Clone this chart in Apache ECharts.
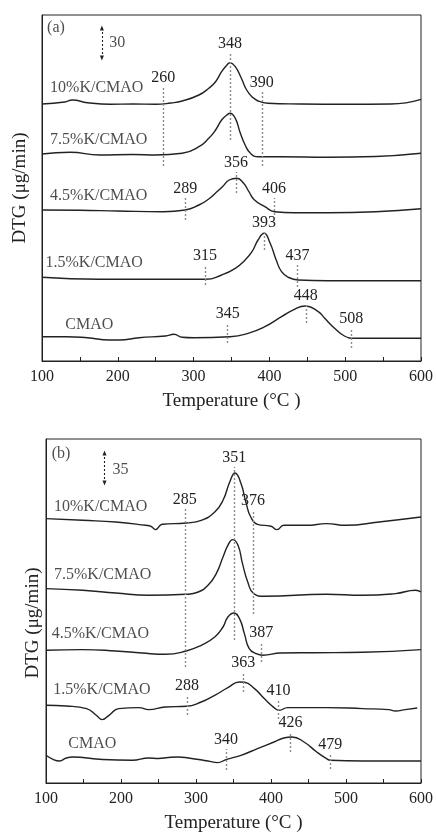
<!DOCTYPE html>
<html>
<head>
<meta charset="utf-8">
<title>DTG profiles</title>
<script src="https://cdn.jsdelivr.net/npm/echarts@6/dist/echarts.min.js"></script>
<style>
html, body { margin: 0; padding: 0; background: #fff; }
#chart { width: 436px; height: 834px; }
</style>
</head>
<body>
<div id="chart"></div>
<script>
var samples = ['10%K/CMAO', '7.5%K/CMAO', '4.5%K/CMAO', '1.5%K/CMAO', 'CMAO'];

// panel (a): [temperature, DTG above own baseline]
var dtgA10 = [[100,-1],[130,1],[140,3],[160,0.3],[190,-1.3],[220,-1],[250,-1.3],[270,0],[285,2],[307,8],[320,14.7],[329,21.3],[337,31.3],[344,38],[348,40.3],[355,36.3],[363,24.7],[370,13],[377,6.3],[385,2],[398,-0.3],[440,-1],[500,-1.3],[560,-1],[600,3.7]];
var dtgA75 = [[100,1],[137,2.7],[176,0],[220,0.5],[250,0],[285,1.7],[307,8.3],[320,16.7],[329,25],[337,35],[344,40],[348,41.7],[355,36.7],[361,23.3],[368,10],[375,1.7],[385,-1.7],[415,-1.7],[477,-2.3],[540,-1.5],[600,1.7]];
var dtgA45 = [[100,1.7],[150,1.5],[200,0.7],[260,0],[289,1.7],[307,6.7],[320,12.7],[329,18.7],[338,25],[347,31.7],[357,33.4],[366,28.4],[373,20],[380,12],[394,5],[407,0],[433,-1],[477,-1],[540,0],[600,3]];
var dtgA15 = [[100,2.7],[175,0.7],[208,0.7],[260,0.7],[316,0.7],[337,5],[355,11.7],[368,20],[377,28.3],[385,40],[393,46.7],[401,36.7],[409,20],[416,8.3],[425,2.7],[438,0],[477,-0.7],[600,-0.7]];
var dtgACM = [[100,1.6],[132,1.6],[160,0.5],[189,-1.7],[202,-1.7],[228,0.6],[263,2.3],[274,4],[285,1],[300,0.5],[348,1.6],[372,5],[394,11.6],[416,21.6],[433,29],[447,32.3],[464,27],[473,20],[486,10],[499,2.3],[512,0],[600,0]];
var offsetA = [258, 206, 149.3, 81, 22.7];

// panel (b)
var dtgB10 = [[100,6.7],[149,5],[193,3.3],[233,0],[240,-1],[246,-4.3],[255,1],[287,2.3],[307,5],[325,13.3],[336,25],[345,43.3],[352,52.3],[360,41.7],[367,21.7],[373,8.3],[382,1],[400,-1],[408,-4.3],[417,0],[448,0],[474,1.7],[500,0],[544,3.3],[600,8.3]];
var dtgB75 = [[100,6.7],[149,5],[193,2.3],[237,0],[287,1],[303,3.3],[316,10],[327,21.7],[336,38.3],[342.5,50],[349,55.7],[356,50],[362,31.7],[369,13.3],[377,1.7],[391,-1],[474,1],[522,0],[566,1.7],[593,5],[600,3.3]];
var dtgB45 = [[100,2.7],[149,3.4],[193,2],[228,0],[259,-1.3],[287,2],[307,7.7],[325,16],[336,26],[342.5,36],[350.4,40],[358,34.4],[364.5,19.4],[371,4.4],[380,-0.6],[389,-2.3],[413,0],[456,0.3],[522,0.7],[600,3.4]];
var dtgB15 = [[100,2.3],[127,1.6],[154,-1],[167,-7.7],[175,-12],[184,-7.7],[197,-1],[224,0],[237,-2],[259,0.6],[287,1.3],[307,5.6],[325,12.3],[342.5,20],[358,25.6],[364.5,25.3],[378,19],[391,9],[404,0],[411,-2.7],[422,0],[474,0],[522,-1],[557,-2],[566,-3.4],[579,-2],[595,-0.4]];
var dtgBCM = [[100,5.7],[110,1.4],[118,0],[127,3],[136,4],[171,1.7],[215,0.7],[237,3],[250,2.5],[263,3.5],[276,4],[290,3],[316,0],[329,-1.6],[340,1.4],[360,5.7],[382,12.4],[404,19],[417,23],[428,24],[444,19],[461,9],[474,2.4],[479,0.7],[522,0],[600,0]];
var offsetB = [257.7, 187.7, 130, 75.4, 22];

// marked temperatures and the vertical extent of their dotted guides
var peaksA = [348, 260, 390, 356, 289, 406, 393, 315, 437, 448, 345, 508];
var spansA = [[221,308],[195,274],[195,269],[168,189],[141,163],[146,163],[111,129],[76,96],[74,96],[38,56],[18,38],[13,33]];
var peaksB = [351, 285, 376, 387, 363, 288, 410, 426, 340, 479];
var spansB = [[143,316],[116,274],[169,273],[121,141],[91,111],[68,88],[64,83],[31,51],[13,34],[14,29]];

var namePosA = [[110,273],[110,221],[110,165],[104,98],[130,36]];
var namePosB = [[110,276],[110,208],[107,149],[109,93],[129,39]];

var font = 'Liberation Serif';
var ink = '#222';

function xAxis(idx) {
  return {
    type: 'value', gridIndex: idx, min: 100, max: 600, interval: 100,
    name: 'Temperature (°C )', nameLocation: 'middle', nameGap: 31,
    nameTextStyle: { fontFamily: font, fontSize: 19, color: ink },
    axisLine: { lineStyle: { color: ink, width: 1 } },
    axisTick: { inside: true, length: 4, lineStyle: { color: ink } },
    minorTick: { show: true, splitNumber: 2, length: 4, lineStyle: { color: ink } },
    axisLabel: { fontFamily: font, fontSize: 16, color: ink, margin: 8 },
    splitLine: { show: false }
  };
}
function yAxis(idx, max, gap, pad) {
  return {
    type: 'value', gridIndex: idx, min: 0, max: max,
    name: 'DTG (μg/min)', nameLocation: 'middle', nameGap: gap,
    nameTextStyle: { fontFamily: font, fontSize: 19, color: ink, padding: pad },
    axisLine: { show: true, lineStyle: { color: ink, width: 1 } },
    axisTick: { show: false }, axisLabel: { show: false },
    splitLine: { show: false }
  };
}

var series = [];
function addPanel(idx, curves, offsets, peaks, spans, namePos, tag, barT, barSpan, barText, barTextPos) {
  curves.forEach(function (c, i) {
    series.push({
      type: 'line', xAxisIndex: idx, yAxisIndex: idx, name: samples[i],
      data: c.map(function (p) { return [p[0], p[1] + offsets[i]]; }),
      smooth: 0.5, showSymbol: false, silent: true,
      lineStyle: { color: ink, width: 1.4 }
    });
  });
  series.push({
    type: 'line', xAxisIndex: idx, yAxisIndex: idx, data: [], silent: true,
    markLine: {
      silent: true, symbol: ['none', 'none'], animation: false,
      lineStyle: { type: [2, 2], color: '#8c8c8c', width: 1.4 },
      label: { show: true, position: 'end', distance: 1, formatter: '{b}',
               fontFamily: font, fontSize: 16, color: ink },
      data: peaks.map(function (t, i) {
        return [{ coord: [t, spans[i][0]], name: String(t) }, { coord: [t, spans[i][1]] }];
      }).concat([[
        { coord: [barT, barSpan[0]], symbol: 'triangle', symbolSize: [4, 5], symbolRotate: 180,
          label: { show: false }, lineStyle: { type: [2, 2], color: ink, width: 1.1 } },
        { coord: [barT, barSpan[1]], symbol: 'triangle', symbolSize: [4, 5] }
      ]])
    }
  });
  series.push({
    type: 'scatter', xAxisIndex: idx, yAxisIndex: idx, silent: true,
    symbolSize: 1, itemStyle: { color: 'rgba(0,0,0,0)' },
    label: { show: true, position: 'right', distance: 0, formatter: '{b}',
             fontFamily: font, fontSize: 16, color: ink },
    data: samples.map(function (s, i) { return { name: s, value: namePos[i] }; })
      .concat([{ name: tag[0], value: tag[1] },
               { name: barText, value: barTextPos }])
  });
}

addPanel(0, [dtgA10, dtgA75, dtgA45, dtgA15, dtgACM], offsetA, peaksA, spansA, namePosA,
         ['(a)', [106, 333]], 179, [303, 333], '30', [188, 318]);
addPanel(1, [dtgB10, dtgB75, dtgB45, dtgB15, dtgBCM], offsetB, peaksB, spansB, namePosB,
         ['(b)', [107, 329]], 178, [300, 330], '35', [188, 313]);

var chart = echarts.init(document.getElementById('chart'));
chart.setOption({
  backgroundColor: '#fff',
  animation: false,
  grid: [
    { left: 42, top: 15, width: 382, height: 346, show: true, borderColor: ink, borderWidth: 1 },
    { left: 46, top: 439, width: 379, height: 344, show: true, borderColor: ink, borderWidth: 1 }
  ],
  xAxis: [xAxis(0), xAxis(1)],
  yAxis: [yAxis(0, 346, 12, 0), yAxis(1, 344, 3, [0, 24, 0, 0])],
  series: series
});
</script>
</body>
</html>
